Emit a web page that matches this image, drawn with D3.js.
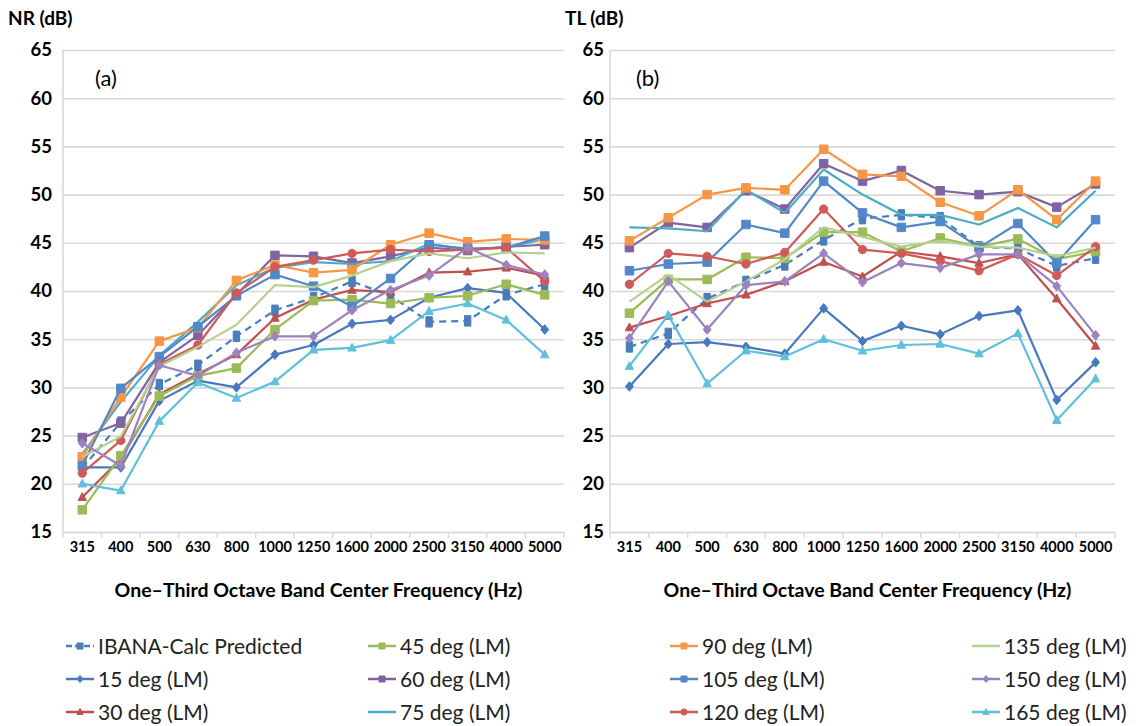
<!DOCTYPE html>
<html>
<head>
<meta charset="utf-8">
<script src="https://cdn.jsdelivr.net/npm/d3@7"></script>
<style>
  body { margin: 0; background: #ffffff; }
  svg { display: block; font-family: Lato, "Open Sans", "Liberation Sans", sans-serif; }
</style>
</head>
<body>
<svg id="chart" width="1138" height="726"></svg>
<script>
// One-third octave band centre frequencies (Hz)
const freqs = ["315", "400", "500", "630", "800", "1000", "1250", "1600", "2000", "2500", "3150", "4000", "5000"];
const yTicks = [15, 20, 25, 30, 35, 40, 45, 50, 55, 60, 65];

const seriesLabels = [
  "IBANA-Calc Predicted", "15 deg (LM)", "30 deg (LM)", "45 deg (LM)",
  "60 deg (LM)", "75 deg (LM)", "90 deg (LM)", "105 deg (LM)",
  "120 deg (LM)", "135 deg (LM)", "150 deg (LM)", "165 deg (LM)"
];

// (a) Noise reduction, NR (dB)
const nrIbana = [21.6, 26.4, 30.3, 32.3, 35.3, 38.0, 39.3, 41.0, 39.5, 36.8, 36.9, 39.6, 40.7];
const nr15    = [21.7, 21.7, 28.6, 30.7, 30.0, 33.4, 34.4, 36.6, 37.0, 39.3, 40.3, 39.8, 36.0];
const nr30    = [18.6, 22.6, 29.3, 31.4, 33.4, 37.2, 39.1, 40.1, 39.9, 41.9, 42.0, 42.4, 41.6];
const nr45    = [17.3, 22.9, 29.1, 31.2, 32.0, 36.0, 39.0, 39.1, 38.7, 39.3, 39.5, 40.7, 39.6];
const nr60    = [24.8, 26.3, 32.6, 35.4, 39.6, 43.7, 43.6, 42.9, 43.6, 44.5, 44.2, 44.6, 44.8];
const nr75    = [23.1, 28.5, 33.3, 36.8, 40.6, 42.4, 43.0, 42.8, 43.1, 44.9, 44.3, 44.5, 45.4];
const nr90    = [22.8, 29.0, 34.8, 36.2, 41.1, 42.7, 41.9, 42.2, 44.8, 46.0, 45.1, 45.4, 45.3];
const nr105   = [21.9, 29.9, 33.2, 36.3, 39.5, 41.7, 40.5, 38.4, 41.3, 44.8, 44.4, 44.5, 45.7];
const nr120   = [21.1, 24.5, 32.4, 34.4, 39.8, 42.5, 43.2, 43.9, 44.3, 44.1, 44.3, 44.5, 41.0];
const nr135   = [22.8, 24.9, 32.2, 34.2, 36.5, 40.6, 40.4, 41.6, 43.1, 43.9, 43.4, 44.0, 43.9];
const nr150   = [24.2, 21.9, 32.3, 31.2, 33.6, 35.3, 35.3, 38.0, 40.1, 41.6, 44.5, 42.7, 41.7];
const nr165   = [20.0, 19.3, 26.5, 30.5, 28.9, 30.6, 33.9, 34.1, 34.9, 37.9, 38.7, 37.0, 33.4];

// (b) Transmission loss, TL (dB)
const tlIbana = [34.2, 35.6, 39.2, 41.0, 42.7, 45.3, 47.5, 47.9, 47.6, 44.6, 44.4, 42.6, 43.4];
const tl15    = [30.1, 34.5, 34.7, 34.2, 33.5, 38.2, 34.8, 36.4, 35.5, 37.4, 38.0, 28.7, 32.6];
const tl30    = [36.2, 37.4, 38.7, 39.6, 41.0, 43.0, 41.5, 44.1, 43.6, 42.9, 43.8, 39.2, 34.3];
const tl45    = [37.7, 41.2, 41.2, 43.5, 43.4, 46.1, 46.1, 44.1, 45.5, 44.6, 45.4, 43.3, 44.1];
const tl60    = [44.5, 47.1, 46.6, 50.4, 48.5, 53.2, 51.4, 52.5, 50.4, 50.0, 50.3, 48.7, 51.1];
const tl75    = [46.6, 46.5, 46.2, 50.5, 48.1, 52.6, 50.0, 47.9, 47.9, 46.9, 48.6, 46.6, 50.4];
const tl90    = [45.2, 47.6, 50.0, 50.7, 50.5, 54.7, 52.1, 51.9, 49.2, 47.8, 50.5, 47.4, 51.4];
const tl105   = [42.1, 42.8, 43.0, 46.9, 46.0, 51.4, 48.1, 46.6, 47.2, 44.5, 47.0, 42.9, 47.4];
const tl120   = [40.7, 43.9, 43.6, 42.8, 44.0, 48.5, 44.3, 43.9, 43.1, 42.1, 43.8, 41.6, 44.6];
const tl135   = [38.9, 41.7, 38.9, 41.0, 43.3, 46.6, 45.6, 44.6, 45.2, 44.6, 44.5, 43.6, 44.5];
const tl150   = [35.1, 41.0, 36.0, 40.6, 41.0, 43.9, 40.9, 42.9, 42.4, 43.8, 43.8, 40.5, 35.4];
const tl165   = [32.2, 37.5, 30.4, 33.8, 33.2, 35.0, 33.8, 34.4, 34.5, 33.5, 35.6, 26.6, 30.9];

const nrSeries = [nrIbana, nr15, nr30, nr45, nr60, nr75, nr90, nr105, nr120, nr135, nr150, nr165];
const tlSeries = [tlIbana, tl15, tl30, tl45, tl60, tl75, tl90, tl105, tl120, tl135, tl150, tl165];

// Line colour, marker shape and dash per series (same order as seriesLabels)
const seriesStyle = [
  { color: "#4a7ebb", marker: "rect",     dash: "7,5" },
  { color: "#4a78c0", marker: "diamond",  dash: null },
  { color: "#c0504d", marker: "triangle", dash: null },
  { color: "#9bbb59", marker: "square",   dash: null },
  { color: "#8064a2", marker: "square",   dash: null },
  { color: "#4bacc6", marker: null,       dash: null },
  { color: "#f79646", marker: "square",   dash: null },
  { color: "#5388c8", marker: "square",   dash: null },
  { color: "#cf5a58", marker: "circle",   dash: null },
  { color: "#b7d090", marker: null,       dash: null },
  { color: "#9a84bf", marker: "diamond",  dash: null },
  { color: "#5ec0da", marker: "triangle", dash: null }
];

const svg = d3.select("#chart");
const gridColor = "#d9d9d9";
const yDomain = [15, 65];

function markerPath(type, s) {
  const h = s / 2;
  switch (type) {
    case "square":   return `M${-h},${-h}h${s}v${s}h${-s}Z`;
    case "rect":     return `M${-h * 0.8},${-h * 1.3}h${s * 0.8}v${s * 1.3}h${-s * 0.8}Z`;
    case "diamond":  return `M0,${-h * 1.2}L${h},0L0,${h * 1.2}L${-h},0Z`;
    case "triangle": return `M0,${-h * 1.15}L${h * 1.05},${h * 0.8}L${-h * 1.05},${h * 0.8}Z`;
    case "circle":   return d3.symbol(d3.symbolCircle, s * s * 0.85)();
  }
  return "";
}

function drawPanel(opts) {
  const { left, right, top, bottom, series, yTitle, yTitleX, tag, tagX, labelPad } = opts;
  const x = d3.scaleBand().domain(freqs).range([left, right]);
  const y = d3.scaleLinear().domain(yDomain).range([bottom, top]);
  const g = svg.append("g");

  // horizontal gridlines + y tick labels
  const yAxis = g.append("g")
    .attr("transform", `translate(${left},0)`)
    .call(d3.axisLeft(y).tickValues(yTicks).tickSize(-(right - left)).tickPadding(labelPad));
  yAxis.select(".domain").remove();
  yAxis.selectAll(".tick line").attr("stroke", gridColor).attr("stroke-width", 1.6);
  yAxis.selectAll(".tick text")
    .attr("fill", "#000").style("font-size", "18.5px").style("font-weight", "700")
    .style("font-family", "Lato, sans-serif");

  // vertical axis line
  g.append("line").attr("x1", left).attr("x2", left).attr("y1", top).attr("y2", bottom)
    .attr("stroke", gridColor).attr("stroke-width", 1.6);

  // category axis: labels at band centres, tick marks between bands
  const xAxis = g.append("g")
    .attr("transform", `translate(0,${bottom})`)
    .call(d3.axisBottom(x).tickSize(0).tickPadding(10));
  xAxis.select(".domain").attr("stroke", gridColor).attr("stroke-width", 1.6);
  xAxis.selectAll(".tick text")
    .attr("fill", "#000").style("font-size", "14.5px").style("font-weight", "700")
    .style("font-family", "Lato, sans-serif");
  const edges = freqs.map(f => x(f)).concat([right]);
  g.append("g").selectAll("line").data(edges).join("line")
    .attr("x1", d => d).attr("x2", d => d)
    .attr("y1", bottom).attr("y2", bottom + 6)
    .attr("stroke", gridColor).attr("stroke-width", 1.4);

  // axis titles and panel tag
  g.append("text").attr("x", (left + right) / 2 + 5).attr("y", bottom + 65)
    .attr("text-anchor", "middle").style("font-size", "19.5px").style("font-weight", "700")
    .text("One\u2013Third Octave Band Center Frequency (Hz)");
  g.append("text").attr("x", yTitleX).attr("y", 25)
    .style("font-size", "19px").style("font-weight", "700").text(yTitle);
  g.append("text").attr("x", tagX).attr("y", 86)
    .style("font-size", "22px").style("font-weight", "400").text(tag);

  const line = d3.line()
    .x((d, i) => x(freqs[i]) + x.bandwidth() / 2)
    .y(d => y(d));

  series.forEach((vals, si) => {
    const st = seriesStyle[si];
    const sg = g.append("g");
    sg.append("path").datum(vals)
      .attr("d", line)
      .attr("fill", "none")
      .attr("stroke", st.color)
      .attr("stroke-width", 2.2)
      .attr("stroke-linejoin", "round")
      .attr("stroke-dasharray", st.dash);
    if (st.marker) {
      const size = st.marker === "square" ? 8.5 : 8;
      sg.selectAll("path.m").data(vals).join("path")
        .attr("class", "m")
        .attr("transform", (d, i) => `translate(${x(freqs[i]) + x.bandwidth() / 2},${y(d)})`)
        .attr("d", markerPath(st.marker, size))
        .attr("fill", st.color)
        .attr("stroke", st.color)
        .attr("stroke-width", 1);
    }
  });
}

drawPanel({ left: 63, right: 564, top: 50, bottom: 532, series: nrSeries,
            yTitle: "NR (dB)", yTitleX: 8, tag: "(a)", tagX: 95, labelPad: 11 });
drawPanel({ left: 610, right: 1115, top: 50, bottom: 532, series: tlSeries,
            yTitle: "TL (dB)", yTitleX: 565, tag: "(b)", tagX: 636, labelPad: 6 });

// Legend: four columns, three rows, filled column by column
const legendCols = [66, 368, 670, 972];
const legendRows = [646, 679, 712];
const legend = svg.append("g");
seriesLabels.forEach((label, i) => {
  const col = Math.floor(i / 3), row = i % 3;
  const lx = legendCols[col], ly = legendRows[row];
  const st = seriesStyle[i];
  const item = legend.append("g").attr("transform", `translate(${lx},${ly})`);
  item.append("line").attr("x1", 0).attr("x2", 28).attr("y1", 0).attr("y2", 0)
    .attr("stroke", st.color).attr("stroke-width", 2.5)
    .attr("stroke-dasharray", st.dash ? "6,3" : null);
  if (st.marker) {
    item.append("path").attr("transform", "translate(14,0)")
      .attr("d", markerPath(st.marker === "rect" ? "square" : st.marker, 6))
      .attr("fill", st.color).attr("stroke", st.color);
  }
  item.append("text").attr("x", 32).attr("y", 7.5)
    .style("font-size", "21px").style("font-weight", "400").attr("fill", "#222")
    .text(label);
});
</script>
</body>
</html>
